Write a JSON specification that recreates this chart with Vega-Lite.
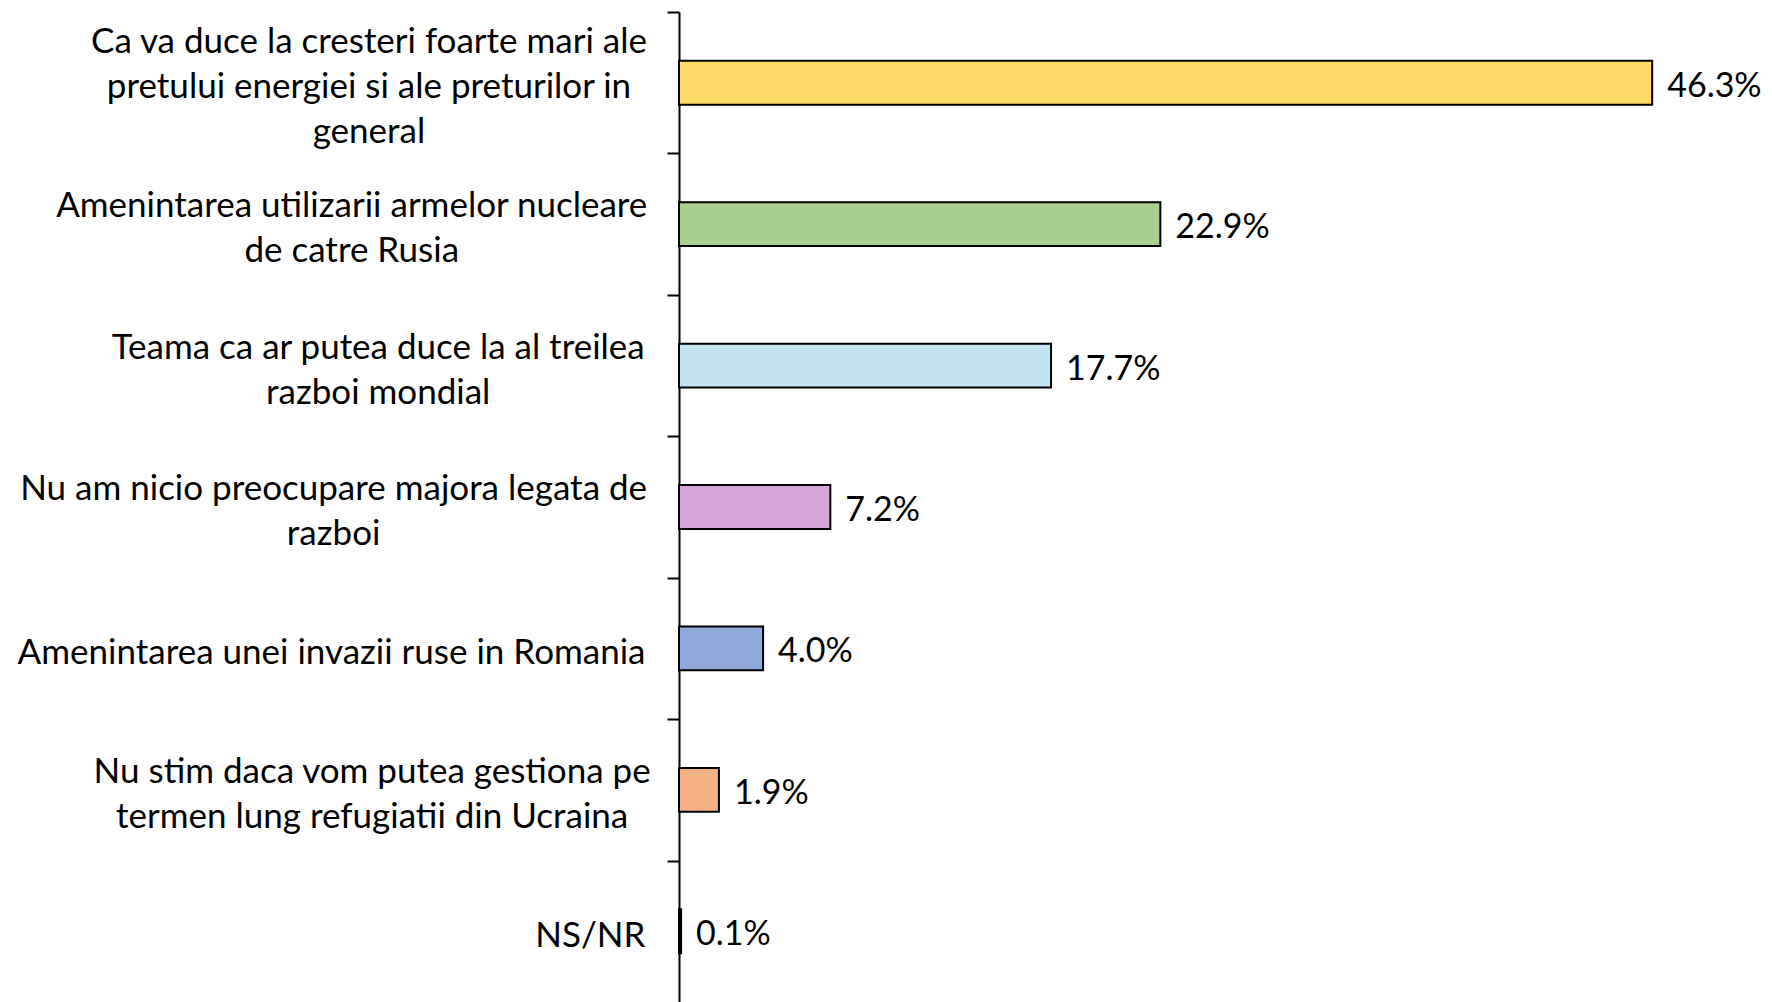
{
  "$schema": "https://vega.github.io/schema/vega-lite/v6.json",
  "autosize": "none",
  "width": 1093,
  "height": 990,
  "padding": {"left": 679, "top": 12, "right": 0, "bottom": 0},
  "background": "white",
  "config": {"view": {"stroke": null}},
  "data": {
    "values": [
      {"cat": "Ca va duce la cresteri foarte mari ale|pretului energiei si ale preturilor in|general", "value": 0.463, "color": "#FFD966"},
      {"cat": "Amenintarea utilizarii armelor nucleare|de catre Rusia", "value": 0.229, "color": "#A9D18E"},
      {"cat": "Teama ca ar putea duce la al treilea|razboi mondial", "value": 0.177, "color": "#C1E4F0"},
      {"cat": "Nu am nicio preocupare majora legata de|razboi", "value": 0.072, "color": "#D9A3DB"},
      {"cat": "Amenintarea unei invazii ruse in Romania", "value": 0.040, "color": "#8EAADB"},
      {"cat": "Nu stim daca vom putea gestiona pe|termen lung refugiatii din Ucraina", "value": 0.019, "color": "#F4B183"},
      {"cat": "NS/NR", "value": 0.001, "color": "#000000"}
    ]
  },
  "encoding": {
    "y": {
      "field": "cat",
      "type": "nominal",
      "sort": null,
      "scale": {"paddingInner": 0.69, "paddingOuter": 0.345},
      "axis": {
        "title": null,
        "domain": true,
        "domainColor": "black",
        "domainWidth": 2,
        "tickColor": "black",
        "tickWidth": 2,
        "tickSize": 12,
        "tickOffset": -70.7,
        "labelFont": "Lato",
        "labelFontSize": 35,
        "labelColor": "black",
        "labelLineHeight": 45,
        "labelLimit": 800,
        "labelBaseline": "middle",
        "labelExpr": "split(datum.label, '|')",
        "labelAlign": {"expr": "indexof(datum.value, '|') < 0 ? 'right' : 'center'"},
        "labelOffset": {"expr": "74.7 - (length(split(datum.value, '|')) - 1) * 45 / 2"},
        "labelPadding": {"expr": "indexof(datum.value, '|') < 0 ? 22 : 22 + max(35.5 * (-0.01 * length(split(datum.value, '|')[0]) + 0.34 * length(replace(split(datum.value, '|')[0], regexp(' ', 'g'), '')) + 0.30 * length(replace(split(datum.value, '|')[0], regexp('[il]', 'g'), '')) + 0.18 * length(replace(split(datum.value, '|')[0], regexp('[rtf]', 'g'), '')) - 0.28 * length(replace(split(datum.value, '|')[0], regexp('[mw]', 'g'), ''))), 35.5 * (-0.01 * length(split(datum.value, '|')[1] || '') + 0.34 * length(replace(split(datum.value, '|')[1] || '', regexp(' ', 'g'), '')) + 0.30 * length(replace(split(datum.value, '|')[1] || '', regexp('[il]', 'g'), '')) + 0.18 * length(replace(split(datum.value, '|')[1] || '', regexp('[rtf]', 'g'), '')) - 0.28 * length(replace(split(datum.value, '|')[1] || '', regexp('[mw]', 'g'), ''))), 35.5 * (-0.01 * length(split(datum.value, '|')[2] || '') + 0.34 * length(replace(split(datum.value, '|')[2] || '', regexp(' ', 'g'), '')) + 0.30 * length(replace(split(datum.value, '|')[2] || '', regexp('[il]', 'g'), '')) + 0.18 * length(replace(split(datum.value, '|')[2] || '', regexp('[rtf]', 'g'), '')) - 0.28 * length(replace(split(datum.value, '|')[2] || '', regexp('[mw]', 'g'), '')))) / 2"}
      }
    },
    "x": {
      "field": "value",
      "type": "quantitative",
      "scale": {"domain": [0, 0.52], "nice": false},
      "axis": null
    }
  },
  "layer": [
    {
      "mark": {"type": "bar", "stroke": "black", "strokeWidth": 2},
      "encoding": {
        "color": {"field": "color", "type": "nominal", "scale": null}
      }
    },
    {
      "mark": {"type": "text", "align": "left", "baseline": "middle", "dx": 15, "dy": 4, "font": "Lato", "fontSize": 34, "color": "black"},
      "encoding": {
        "text": {"field": "value", "type": "quantitative", "format": ".1%"}
      }
    }
  ]
}
